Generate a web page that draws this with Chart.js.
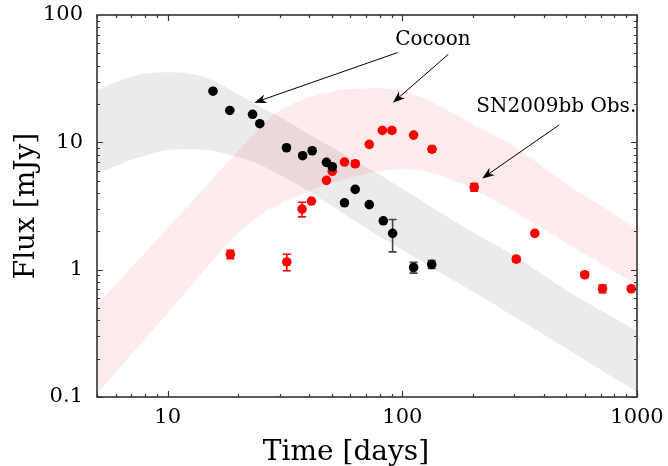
<!DOCTYPE html>
<html>
<head>
<meta charset="utf-8">
<script src="https://cdn.jsdelivr.net/npm/chart.js@4.4.1/dist/chart.umd.min.js"></script>
<style>
  html, body { margin: 0; padding: 0; background: #fff; }
  #wrap { width: 668px; height: 466px; }
</style>
</head>
<body>
<div id="wrap"><canvas id="fluxChart" width="668" height="466"></canvas></div>
<script>
// black points (days, mJy) and their errors
const blackT = [15.6, 18.4, 23.0, 24.7, 32.1, 37.6, 41.3, 47.5, 50.3, 56.7, 63.0, 72.3, 83.0, 90.9, 111.7, 133.4];
const blackF = [25.2, 17.8, 16.6, 14.0, 9.07, 7.85, 8.59, 6.96, 6.43, 3.35, 4.27, 3.24, 2.42, 1.93, 1.04, 1.10];
const blackErr = [0, 0, 0, 0, 0, 0, 0, 0, 0, 0, 0, 0, 0, 0.55, 0.10, 0.08];

// SN2009bb observations
const redT = [18.5, 32.2, 37.4, 41.0, 47.5, 50.3, 56.7, 63.0, 72.3, 82.2, 90.3, 111.7, 133.8, 202.5, 306, 367, 599, 713, 945];
const redF = [1.32, 1.15, 2.99, 3.46, 5.03, 5.92, 7.0, 6.79, 9.64, 12.4, 12.4, 11.4, 8.83, 4.44, 1.21, 1.93, 0.912, 0.708, 0.708];
const redErr = [0.10, 0.17, 0.39, 0, 0, 0, 0, 0.3, 0, 0, 0.5, 0, 0.4, 0.3, 0.06, 0, 0.04, 0.05, 0];

// model bands
const bandT = [5, 6, 7, 8, 10, 12, 15, 20, 25, 30, 40, 50, 60, 70, 80, 90, 100, 120, 150, 200, 300, 500, 700, 1000];
const cocoonHi = [25.8, 29.8, 32.7, 34.7, 35.5, 34.9, 31.6, 23.9, 18.9, 15.8, 11.6, 9.18, 7.53, 6.40, 5.58, 4.89, 4.34, 3.51, 2.71, 1.97, 1.28, 0.69, 0.48, 0.33];
const cocoonLo = [5.64, 6.48, 7.31, 7.86, 8.70, 8.80, 8.65, 7.66, 6.60, 5.53, 4.11, 3.16, 2.54, 2.12, 1.82, 1.61, 1.43, 1.17, 0.912, 0.674, 0.426, 0.240, 0.164, 0.110];
const snHi = [0.527, 0.761, 1.037, 1.355, 2.11, 3.06, 4.81, 8.58, 13.3, 17.7, 22.6, 25.0, 26.2, 26.5, 26.7, 26.2, 25.5, 22.6, 18.6, 13.9, 9.23, 4.70, 3.19, 2.08];
const snLo = [0.105, 0.155, 0.215, 0.285, 0.459, 0.677, 1.087, 1.94, 2.70, 3.25, 4.14, 4.78, 5.28, 5.65, 5.93, 6.09, 6.21, 6.02, 5.41, 4.28, 2.87, 1.61, 1.12, 0.762];

const xTicks = [10, 100, 1000];
const yTicks = [0.1, 1, 10, 100];

// annotations, in data coordinates
const notes = [
  { text: "Cocoon", t: 135, f: 63.6 },
  { text: "SN2009bb Obs.", t: 453, f: 19.0 }
];
const arrows = [
  { from: [95.5, 50.7], to: [23.4, 20.5] },
  { from: [157, 49.1], to: [91.2, 20.5] },
  { from: [466, 13.7], to: [219, 5.21] }
];

const SERIF = "'DejaVu Serif', serif";
const pts = (xs, ys) => xs.map((v, i) => ({ x: v, y: ys[i] }));

function drawArrow(ctx, x0, y0, x1, y1) {
  const ang = Math.atan2(y1 - y0, x1 - x0);
  const L = 12, W = 4.5;
  ctx.beginPath();
  ctx.moveTo(x0, y0);
  ctx.lineTo(x1 - Math.cos(ang) * 7, y1 - Math.sin(ang) * 7);
  ctx.stroke();
  ctx.save();
  ctx.translate(x1, y1);
  ctx.rotate(ang);
  ctx.beginPath();
  ctx.moveTo(0, 0);
  ctx.lineTo(-L, -W);
  ctx.lineTo(-L * 0.7, 0);
  ctx.lineTo(-L, W);
  ctx.closePath();
  ctx.fill();
  ctx.restore();
}

const extras = {
  id: "extras",
  beforeDatasetDraw(chart, args) {
    if (args.index > 1) return;
    const { ctx, scales: { x, y } } = chart;
    const ts = args.index === 0 ? blackT : redT;
    const fs = args.index === 0 ? blackF : redF;
    const es = args.index === 0 ? blackErr : redErr;
    ctx.save();
    ctx.strokeStyle = args.index === 0 ? "#444" : "#ff0000";
    ctx.lineWidth = 1.6;
    ts.forEach((t, i) => {
      if (!es[i]) return;
      const px = x.getPixelForValue(t);
      const a = y.getPixelForValue(fs[i] + es[i]);
      const b = y.getPixelForValue(fs[i] - es[i]);
      ctx.beginPath();
      ctx.moveTo(px, a); ctx.lineTo(px, b);
      ctx.moveTo(px - 4, a); ctx.lineTo(px + 4, a);
      ctx.moveTo(px - 4, b); ctx.lineTo(px + 4, b);
      ctx.stroke();
    });
    ctx.restore();
  },
  afterDatasetsDraw(chart) {
    const { ctx, chartArea: a, scales: { x, y } } = chart;
    ctx.save();
    ctx.strokeStyle = "#333";
    ctx.lineWidth = 1.2;
    ctx.beginPath();
    for (let d = 1; d <= 1000; d *= 10) {
      for (let k = 1; k <= 9; k++) {
        const v = k * d;
        if (v < 5 || v > 1000) continue;
        const px = Math.round(x.getPixelForValue(v)) + 0.5;
        const len = k === 1 ? 6 : 3;
        ctx.moveTo(px, a.bottom); ctx.lineTo(px, a.bottom - len);
        ctx.moveTo(px, a.top); ctx.lineTo(px, a.top + len);
      }
    }
    for (let d = 0.1; d < 100; d *= 10) {
      for (let k = 1; k <= 9; k++) {
        const v = k * d;
        const py = Math.round(y.getPixelForValue(v)) + 0.5;
        const len = k === 1 ? 6 : 3;
        ctx.moveTo(a.left, py); ctx.lineTo(a.left + len, py);
        ctx.moveTo(a.right, py); ctx.lineTo(a.right - len, py);
      }
    }
    ctx.stroke();
    ctx.lineWidth = 1.6;
    ctx.strokeRect(a.left, a.top, a.right - a.left, a.bottom - a.top);

    // axis titles
    ctx.fillStyle = "#000";
    ctx.font = "28px " + SERIF;
    ctx.textAlign = "center";
    ctx.textBaseline = "alphabetic";
    ctx.fillText("Time [days]", (a.left + a.right) / 2 - 21, a.bottom + 63);
    ctx.save();
    ctx.translate(34, (a.top + a.bottom) / 2);
    ctx.rotate(-Math.PI / 2);
    ctx.fillText("Flux [mJy]", 0, 0);
    ctx.restore();

    // notes and arrows
    ctx.font = "20px " + SERIF;
    ctx.textBaseline = "middle";
    notes.forEach(n => ctx.fillText(n.text, x.getPixelForValue(n.t), y.getPixelForValue(n.f)));
    ctx.strokeStyle = "#000";
    ctx.lineWidth = 1;
    arrows.forEach(r => drawArrow(ctx,
      x.getPixelForValue(r.from[0]), y.getPixelForValue(r.from[1]),
      x.getPixelForValue(r.to[0]), y.getPixelForValue(r.to[1])));
    ctx.restore();
  }
};

const band = (data, color, fill) => ({
  type: "line",
  data: data,
  borderWidth: 0,
  pointRadius: 0,
  backgroundColor: color,
  fill: fill,
  tension: 0.35
});

new Chart(document.getElementById("fluxChart"), {
  type: "scatter",
  data: {
    datasets: [
      { data: pts(blackT, blackF), backgroundColor: "#000", borderWidth: 0, pointRadius: 4.8 },
      { data: pts(redT, redF), backgroundColor: "#ff0000", borderWidth: 0, pointRadius: 4.8 },
      band(pts(bandT, cocoonHi), "rgba(0,0,0,0.08)", false),
      band(pts(bandT, cocoonLo), "rgba(0,0,0,0.08)", "-1"),
      band(pts(bandT, snHi), "rgba(255,0,0,0.08)", false),
      band(pts(bandT, snLo), "rgba(255,0,0,0.08)", "-1")
    ]
  },
  options: {
    responsive: false,
    animation: false,
    devicePixelRatio: 1,
    layout: { padding: { left: 0, right: 31, top: 15, bottom: 0 } },
    plugins: { legend: { display: false }, tooltip: { enabled: false } },
    scales: {
      x: {
        type: "logarithmic",
        min: 5,
        max: 1000,
        afterBuildTicks: s => { s.ticks = xTicks.map(v => ({ value: v })); },
        afterFit: s => { s.height = 69; s.paddingLeft = 0; s.paddingRight = 0; },
        grid: { display: false, drawTicks: false },
        border: { display: false },
        ticks: {
          padding: 8,
          color: "#000",
          font: { family: SERIF, size: 21 },
          maxRotation: 0,
          callback: v => String(v)
        }
      },
      y: {
        type: "logarithmic",
        min: 0.1,
        max: 100,
        afterBuildTicks: s => { s.ticks = yTicks.map(v => ({ value: v })); },
        afterFit: s => { s.width = 97; s.paddingTop = 0; s.paddingBottom = 0; },
        grid: { display: false, drawTicks: false },
        border: { display: false },
        ticks: {
          padding: 14,
          color: "#000",
          font: { family: SERIF, size: 21 },
          callback: v => String(v)
        }
      }
    }
  },
  plugins: [extras]
});
</script>
</body>
</html>
